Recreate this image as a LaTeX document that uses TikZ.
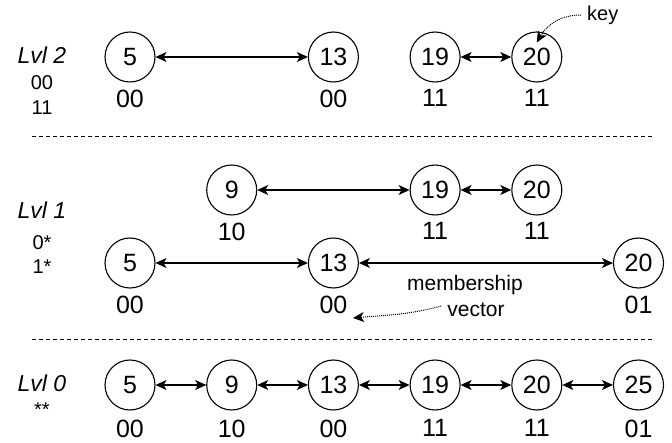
\documentclass[tikz,border=0pt]{standalone}
\usepackage{fontspec}
\setmainfont{Liberation Sans}
\usetikzlibrary{arrows.meta,positioning}

\begin{document}
\begin{tikzpicture}[%
        x=1pt, y=-1pt,
        every node/.style={inner sep=1pt, align=center},
        keynode/.style={circle, draw, line width=1.1pt, minimum size=50pt, inner sep=0pt, font=\fontsize{25}{29}\selectfont},
        vec/.style={font=\fontsize{25}{29}\selectfont, inner sep=0pt, label distance=7pt},
        lvl/.style={font=\fontsize{23}{27}\selectfont\itshape},
        lvlvec/.style={font=\fontsize{20}{24}\selectfont},
        note/.style={font=\fontsize{21}{25}\selectfont},
        link/.style={<->, line width=1.1pt},
        hint/.style={->, line width=1pt, dash pattern=on 1pt off 1pt},
        sep/.style={line width=1pt, dash pattern=on 4pt off 3pt},
        node distance=50.6pt, >={Stealth[length=11pt,width=10pt,inset=3pt]}
      ]
      \useasboundingbox (0,0) rectangle (672,443);
      % level 0
      \node (l0n5) [keynode, label={[vec,label distance=9pt]below:00}] at (130,385) {5};
      \node (l0n9) [keynode, label={[vec,label distance=9pt]below:10}, right=of l0n5] {9};
      \node (l0n13) [keynode, label={[vec,label distance=9pt]below:00}, right=of l0n9] {13};
      \node (l0n19) [keynode, label={[vec,label distance=9pt]below:11}, right=of l0n13] {19};
      \node (l0n20) [keynode, label={[vec,label distance=9pt]below:11}, right=of l0n19] {20};
      \node (l0n25) [keynode, label={[vec,label distance=9pt]below:01}, right=of l0n20] {25};
      \draw [link] (l0n5) -- (l0n9);
      \draw [link] (l0n9) -- (l0n13);
      \draw [link] (l0n13) -- (l0n19);
      \draw [link] (l0n19) -- (l0n20);
      \draw [link] (l0n20) -- (l0n25);
      % level 1
      \node (l1n9) [keynode, label={[vec]below:10}] at (l0n9 |- 0,190) {9};
      \node (l1n19) [keynode, label={[vec]below:11}] at (l0n19 |- 0,190) {19};
      \node (l1n20) [keynode, label={[vec]below:11}] at (l0n20 |- 0,190) {20};
      \node (l1n5) [keynode, label={[vec]below:00}] at (l0n5 |- 0,263) {5};
      \node (l1n13) [keynode, label={[vec]below:00}] at (l0n13 |- 0,263) {13};
      \node (l1n25) [keynode, label={[vec]below:01}] at (l0n25 |- 0,263) {20};
      \draw [link] (l1n9) -- (l1n19);
      \draw [link] (l1n19) -- (l1n20);
      \draw [link] (l1n5) -- (l1n13);
      \draw [link] (l1n13) -- (l1n25);
      % level 2
      \node (l2n5) [keynode, label={[vec]below:00}] at (l0n5 |- 0,57) {5};
      \node (l2n13) [keynode, label={[vec]below:00}] at (l0n13 |- 0,57) {13};
      \node (l2n19) [keynode, label={[vec]below:11}] at (l0n19 |- 0,57) {19};
      \node (l2n20) [keynode, label={[vec]below:11}] at (l0n20 |- 0,57) {20};
      \draw [link] (l2n5) -- (l2n13);
      \draw [link] (l2n19) -- (l2n20);
      % level names
      \node (lvl2) [lvl] at (42,55) {Lvl 2};
      \node (lvl2a) [lvlvec] at (42,83) {00};
      \node (lvl2b) [lvlvec] at (42,108) {11};
      \node (lvl1) [lvl] at (42,210) {Lvl 1};
      \node (lvl1a) [lvlvec] at (42,243) {0*};
      \node (lvl1b) [lvlvec] at (42,267) {1*};
      \node (lvl0) [lvl] at (42,383) {Lvl 0};
      \node (lvl0a) [lvlvec] at (42,410) {**};
      % separators
      \draw [sep] (32,137) -- (653,137);
      \draw [sep] (32,340) -- (653,340);
      % notes
      \node (keytxt) [note, font=\fontsize{20}{24}\selectfont, anchor=west] at (586,15) {key};
      \draw [hint] ([xshift=-5pt]keytxt.west) to[out=180,in=60] ([yshift=-11pt]l2n20.north);
      \node (mvtop) [note] at (465,285) {membership};
      \node (mvbot) [note] at (476,310) {vector};
      \coordinate (vtip) at (353,318);
      \draw [hint] ([xshift=-5pt,yshift=4pt]mvbot.west) to[out=195,in=5] (vtip);
    \end{tikzpicture}
\end{document}
